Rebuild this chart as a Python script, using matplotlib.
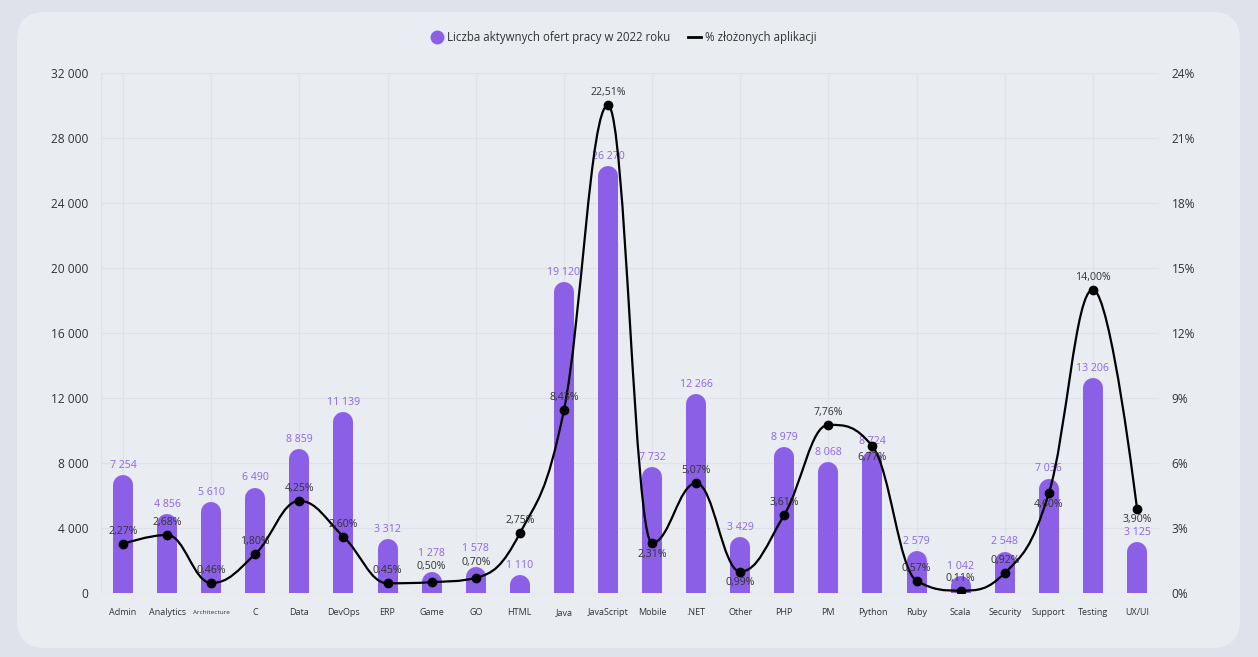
import numpy as np
import matplotlib
matplotlib.use("Agg")
import matplotlib.pyplot as plt
from matplotlib.patches import FancyBboxPatch
from matplotlib.path import Path
from matplotlib.patches import PathPatch
from matplotlib.lines import Line2D
from matplotlib.ticker import FixedLocator

plt.rcParams['font.family'] = ['Open Sans', 'DejaVu Sans']

categories = ["Admin", "Analytics", "Architecture", "C", "Data", "DevOps", "ERP", "Game", "GO",
              "HTML", "Java", "JavaScript", "Mobile", ".NET", "Other", "PHP", "PM", "Python",
              "Ruby", "Scala", "Security", "Support", "Testing", "UX/UI"]
job_offers = [7254, 4856, 5610, 6490, 8859, 11139, 3312, 1278, 1578, 1110, 19120, 26270,
              7732, 12266, 3429, 8979, 8068, 8724, 2579, 1042, 2548, 7036, 13206, 3125]
applications_pct = [2.27, 2.68, 0.46, 1.80, 4.25, 2.60, 0.45, 0.50, 0.70, 2.75, 8.43, 22.51,
                    2.31, 5.07, 0.99, 3.61, 7.76, 6.77, 0.57, 0.11, 0.92, 4.60, 14.00, 3.90]
left_ticks = [0, 4000, 8000, 12000, 16000, 20000, 24000, 28000, 32000]
right_ticks = [0, 3, 6, 9, 12, 15, 18, 21, 24]
series_names = ["Liczba aktywnych ofert pracy w 2022 roku", "% złożonych aplikacji"]

# style
W, H, DPI = 1258, 657, 100
OUTER_BG = "#dfe2ea"
CARD_BG = "#e9ecf1"
PURPLE = "#8b5fe6"
LABEL_PURPLE = "#9064ea"
GRID = "#dfe2e8"
TEXT = "#333333"
below_labels = {"Mobile", "Other", "Python", "Support", "UX/UI"}
raised_labels = {"Game", "GO"}

fig = plt.figure(figsize=(W / DPI, H / DPI), dpi=DPI, facecolor=OUTER_BG)
bg = fig.add_axes([0, 0, 1, 1], zorder=-10)
bg.set_xlim(0, W)
bg.set_ylim(0, H)
bg.axis("off")
bg.add_patch(FancyBboxPatch((17, 9), 1223, 636, boxstyle="round,pad=0,rounding_size=28",
                            facecolor=CARD_BG, edgecolor="none"))

ax_l, ax_r, ax_t, ax_b = 101, 1159, 73, 593
ax = fig.add_axes([ax_l / W, (H - ax_b) / H, (ax_r - ax_l) / W, (ax_b - ax_t) / H])
ax.set_facecolor("none")
n = len(categories)
x = np.arange(n)
ax.set_xlim(-0.5, n - 0.5)
ax.set_ylim(0, 32000)
for s in ax.spines.values():
    s.set_visible(False)

# grid
ax.yaxis.set_major_locator(FixedLocator(left_ticks))
ax.set_yticklabels([f"{v:,}".replace(",", " ") for v in left_ticks])
for v in left_ticks:
    ax.axhline(v, color=GRID, lw=1, zorder=0.5)
for i in range(0, n, 2):
    ax.axvline(i, color=GRID, lw=1, zorder=0.5)
ax.axvline(-0.5, color=GRID, lw=1, zorder=0.5)
ax.axvline(n - 0.5, color=GRID, lw=1, zorder=0.5)
ax.tick_params(axis="y", length=0, pad=9, labelsize=8.6, labelcolor=TEXT)
ax.set_xticks(x)
ax.set_xticklabels(categories)
ax.tick_params(axis="x", length=0, pad=13.5, labelsize=6.5, labelcolor=TEXT)
for lbl in ax.get_xticklabels():
    lbl.set_verticalalignment("center_baseline")
    if lbl.get_text() == "Architecture":
        lbl.set_fontsize(4.6)

# bars with rounded tops
bar_px = 20
r_data = (bar_px / 2) / (ax_b - ax_t) * 32000
lw_pt = bar_px * 72 / DPI
ax.vlines(x, 0, np.array(job_offers) - r_data, colors=PURPLE, linewidth=lw_pt,
          capstyle="round", zorder=2)
for xi, v, c in zip(x, job_offers, categories):
    off = 9.5 if c in raised_labels else 3
    ax.annotate(f"{v:,}".replace(",", " "), (xi, v), xytext=(0, off), textcoords="offset points",
                ha="center", va="bottom", fontsize=7.6, color=LABEL_PURPLE, zorder=5)

# secondary axis
ax2 = ax.twinx()
ax2.set_ylim(0, 24)
ax2.set_xlim(-0.5, n - 0.5)
for s in ax2.spines.values():
    s.set_visible(False)
ax2.yaxis.set_major_locator(FixedLocator(right_ticks))
ax2.set_yticklabels([f"{v}%" for v in right_ticks])
ax2.tick_params(axis="y", length=0, pad=9, labelsize=8.6, labelcolor=TEXT)

# Highcharts-style spline
px = x.astype(float)
py = np.array(applications_pct, dtype=float)
sm, den = 1.5, 2.5
lc = [None] * n
rc = [None] * n
for i in range(1, n - 1):
    lx = (sm * px[i] + px[i - 1]) / den
    ly = (sm * py[i] + py[i - 1]) / den
    rx = (sm * px[i] + px[i + 1]) / den
    ry = (sm * py[i] + py[i + 1]) / den
    corr = (ry - ly) * (rx - px[i]) / (rx - lx) + py[i] - ry
    ly += corr
    ry += corr
    if ly > py[i - 1] and ly > py[i]:
        ly = max(py[i - 1], py[i]); ry = 2 * py[i] - ly
    elif ly < py[i - 1] and ly < py[i]:
        ly = min(py[i - 1], py[i]); ry = 2 * py[i] - ly
    if ry > py[i + 1] and ry > py[i]:
        ry = max(py[i + 1], py[i]); ly = 2 * py[i] - ry
    elif ry < py[i + 1] and ry < py[i]:
        ry = min(py[i + 1], py[i]); ly = 2 * py[i] - ry
    lc[i] = (lx, ly)
    rc[i] = (rx, ry)
verts = [(px[0], py[0])]
codes = [Path.MOVETO]
for i in range(1, n):
    c1 = rc[i - 1] if rc[i - 1] is not None else (px[i - 1], py[i - 1])
    c2 = lc[i] if lc[i] is not None else (px[i], py[i])
    verts += [c1, c2, (px[i], py[i])]
    codes += [Path.CURVE4] * 3
ax2.add_patch(PathPatch(Path(verts, codes), facecolor="none", edgecolor="black", lw=1.6, zorder=3))
ax2.plot(px, py, linestyle="none", marker="o", markersize=6, color="black", zorder=4)
for xi, v, c in zip(px, py, categories):
    txt = f"{v:.2f}%".replace(".", ",")
    if c in below_labels:
        ax2.annotate(txt, (xi, v), xytext=(0, -4), textcoords="offset points",
                     ha="center", va="top", fontsize=7.6, color=TEXT, zorder=6)
    else:
        off = 7 if c in raised_labels else 5
        ax2.annotate(txt, (xi, v), xytext=(0, off), textcoords="offset points",
                     ha="center", va="bottom", fontsize=7.6, color=TEXT, zorder=6)

handles = [Line2D([], [], marker="o", linestyle="none", markersize=9, color=PURPLE),
           Line2D([], [], color="black", lw=2)]
fig.legend(handles, series_names, loc="center", bbox_to_anchor=(0.4955, (H - 38) / H), ncol=2,
           frameon=False, fontsize=8.3, handlelength=1.1, handletextpad=0.3, columnspacing=1.6,
           labelcolor=TEXT)

fig.savefig("out.png", dpi=DPI, facecolor=OUTER_BG)
